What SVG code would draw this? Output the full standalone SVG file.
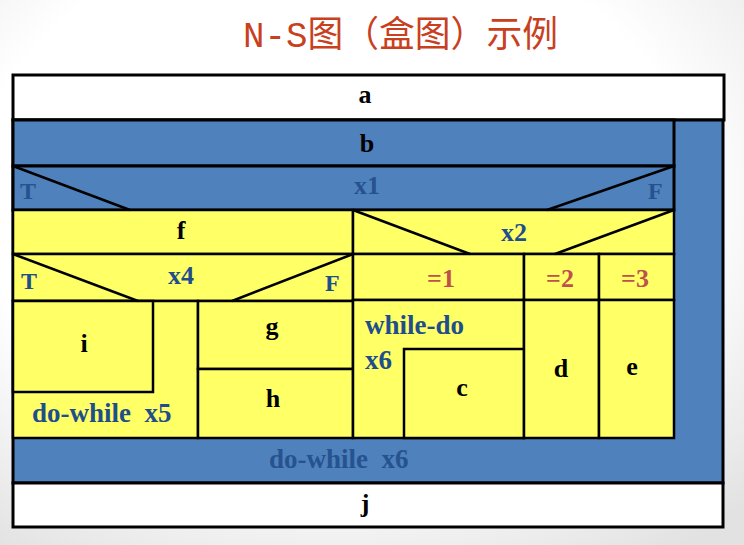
<svg xmlns="http://www.w3.org/2000/svg" width="744" height="545" viewBox="0 0 744 545">
<defs>
<radialGradient id="bg" cx="0.45" cy="0.35" r="0.8">
<stop offset="0.6" stop-color="#ffffff"/>
<stop offset="1" stop-color="#e2e2e2"/>
</radialGradient>
<style>
.w{fill:#ffffff;stroke:#000;stroke-width:3}
.bl{fill:#4F81BD;stroke:#000;stroke-width:3}
.y{fill:#FFFF66;stroke:#000;stroke-width:2.5}
.ln{stroke:#000;stroke-width:2.5;fill:none}
.t{font-family:"Liberation Serif","Times New Roman",serif;font-weight:bold;font-size:26px;fill:#000;text-anchor:middle}
.tb{font-family:"Liberation Serif","Times New Roman",serif;font-weight:bold;font-size:26px;fill:#26538F;text-anchor:middle}
.ty{font-family:"Liberation Serif","Times New Roman",serif;font-weight:bold;font-size:26px;fill:#1F4E8C;text-anchor:middle}
.tf{font-family:"Liberation Serif","Times New Roman",serif;font-weight:bold;font-size:24px;text-anchor:start}
.tr{font-family:"Liberation Serif","Times New Roman",serif;font-weight:bold;font-size:26px;fill:#C0504D;text-anchor:middle}
.lp{font-family:"Liberation Serif","Times New Roman",serif;font-weight:bold;font-size:27px;text-anchor:start}
</style>
</defs>
<rect x="0" y="0" width="744" height="545" fill="url(#bg)"/>
<text x="243" y="47" font-family="'Liberation Mono','Noto Sans CJK SC',monospace" font-size="36" fill="#C8401E" textLength="315" lengthAdjust="spacingAndGlyphs">N-S图（盒图）示例</text>

<g id="node-a">
<rect class="w" x="13" y="75" width="711" height="45"/>
<text class="t" x="365" y="103">a</text>
</g>

<g id="node-loop-x6">
<rect class="bl" x="13" y="120" width="710" height="363"/>
<text class="lp" x="269" y="468" fill="#26538F" xml:space="preserve">do-while  x6</text>
</g>

<g id="node-b">
<rect class="bl" x="13" y="120" width="661" height="46" stroke-width="2.5"/>
<text class="t" x="367" y="152">b</text>
</g>

<g id="node-x1">
<rect class="bl" x="13" y="166" width="661" height="44" stroke-width="2.5"/>
<text class="tb" x="367" y="194">x1</text>
<text class="tf" x="20" y="199" fill="#26538F">T</text>
<text class="tf" x="648" y="199" fill="#26538F">F</text>
</g>

<g id="node-f">
<rect class="y" x="13" y="210" width="340" height="44"/>
<text class="t" x="181" y="239">f</text>
</g>

<g id="node-x4">
<rect class="y" x="13" y="254" width="340" height="47"/>
<text class="ty" x="181" y="284">x4</text>
<text class="tf" x="21" y="289" fill="#1F4E8C">T</text>
<text class="tf" x="325" y="291" fill="#1F4E8C">F</text>
</g>

<g id="node-loop-x5">
<rect class="y" x="13" y="301" width="185" height="137"/>
<text class="lp" x="32" y="422" fill="#1F4E8C" xml:space="preserve">do-while  x5</text>
</g>

<g id="node-i">
<rect class="y" x="13" y="301" width="140" height="91"/>
<text class="t" x="84" y="352">i</text>
</g>

<g id="node-g">
<rect class="y" x="198" y="301" width="155" height="68"/>
<text class="t" x="272" y="335">g</text>
</g>

<g id="node-h">
<rect class="y" x="198" y="369" width="155" height="69"/>
<text class="t" x="273" y="407">h</text>
</g>

<g id="node-x2">
<rect class="y" x="353" y="210" width="321" height="44"/>
<text class="ty" x="514" y="241">x2</text>
</g>

<g id="node-case1">
<rect class="y" x="353" y="254" width="171" height="46"/>
<text class="tr" x="441" y="287">=1</text>
</g>

<g id="node-case2">
<rect class="y" x="524" y="254" width="75" height="46"/>
<text class="tr" x="560" y="287">=2</text>
</g>

<g id="node-case3">
<rect class="y" x="599" y="254" width="75" height="46"/>
<text class="tr" x="635" y="287">=3</text>
</g>

<g id="node-while-do">
<rect class="y" x="353" y="300" width="171" height="138"/>
<text class="lp" x="365" y="334" fill="#1F4E8C">while-do</text>
<text class="lp" x="365" y="369" fill="#1F4E8C">x6</text>
</g>

<g id="node-c">
<rect class="y" x="404" y="349" width="120" height="89"/>
<text class="t" x="462" y="396">c</text>
</g>

<g id="node-d">
<rect class="y" x="524" y="300" width="75" height="138"/>
<text class="t" x="561" y="377">d</text>
</g>

<g id="node-e">
<rect class="y" x="599" y="300" width="75" height="138"/>
<text class="t" x="632" y="375">e</text>
</g>

<g id="node-j">
<rect class="w" x="13" y="483" width="710" height="44"/>
<text class="t" x="365" y="512">j</text>
</g>

<g id="connectors">
<line class="ln" x1="13" y1="166" x2="130" y2="210"/>
<line class="ln" x1="674" y1="166" x2="547" y2="210"/>
<line class="ln" x1="13" y1="254" x2="138" y2="301"/>
<line class="ln" x1="353" y1="254" x2="232" y2="301"/>
<line class="ln" x1="353" y1="210" x2="470" y2="254"/>
<line class="ln" x1="674" y1="210" x2="555" y2="254"/>
</g>
</svg>
